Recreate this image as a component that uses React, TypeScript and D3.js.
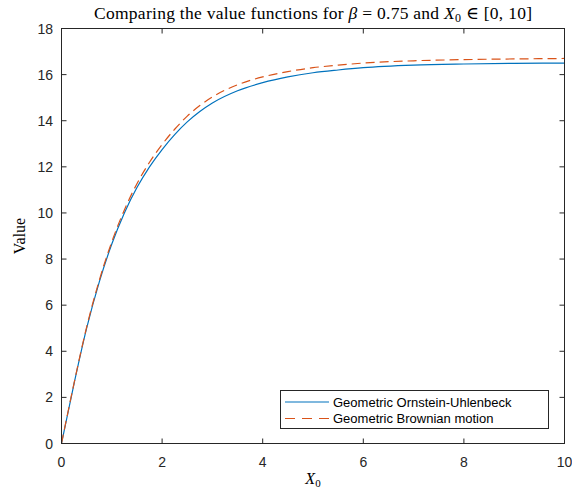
import React from "react";
import * as d3 from "d3";

const xs = [0, 0.25, 0.5, 0.75, 1, 1.25, 1.5, 1.75, 2, 2.25, 2.5, 2.75, 3, 3.5, 4, 4.5, 5, 5.5, 6, 7, 8, 9, 10];
const ouValues = [0, 2.6, 5.0, 7.0, 8.65, 10.0, 11.1, 12.0, 12.75, 13.4, 13.95, 14.4, 14.77, 15.3, 15.65, 15.9, 16.08, 16.2, 16.3, 16.41, 16.46, 16.49, 16.5];
const gbmValues = [0, 2.62, 5.05, 7.07, 8.75, 10.13, 11.27, 12.2, 12.97, 13.63, 14.2, 14.66, 15.03, 15.56, 15.9, 16.13, 16.3, 16.41, 16.5, 16.6, 16.65, 16.68, 16.7];
const xTicks = [0, 2, 4, 6, 8, 10];
const yTicks = [0, 2, 4, 6, 8, 10, 12, 14, 16, 18];
const seriesNames = ["Geometric Ornstein-Uhlenbeck", "Geometric Brownian motion"];

const W = 572, H = 491;
const L = 61.5, R = 564.5, T = 28.5, B = 443.5;
const axisColor = "#262626";
const sans = "'Liberation Sans', Arial, Helvetica, sans-serif";
const serif = "'Liberation Serif', 'DejaVu Serif', 'Times New Roman', serif";

export default function App() {
  const x = d3.scaleLinear().domain([0, 10]).range([L, R]);
  const y = d3.scaleLinear().domain([0, 18]).range([B, T]);
  const line = d3
    .line<number>()
    .x((_, i) => x(xs[i]))
    .y((d) => y(d))
    .curve(d3.curveMonotoneX);
  const tl = 5;
  return (
    <svg width={W} height={H} style={{ position: "absolute", left: 0, top: 0, background: "#fff" }}>
      <rect x={0} y={0} width={W} height={H} fill="#fff" />
      <defs>
        <clipPath id="plot">
          <rect x={L} y={T} width={R - L} height={B - T} />
        </clipPath>
      </defs>
      <g clipPath="url(#plot)">
        <path d={line(ouValues) || ""} fill="none" stroke="#0072BD" strokeWidth={1.2} />
        <path d={line(gbmValues) || ""} fill="none" stroke="#D95319" strokeWidth={1.2} strokeDasharray="9,5" />
      </g>
      <rect x={L} y={T} width={R - L} height={B - T} fill="none" stroke={axisColor} strokeWidth={1} />
      {xTicks.map((t) => (
        <g key={"x" + t}>
          <line x1={x(t)} x2={x(t)} y1={B} y2={B - tl} stroke={axisColor} />
          <line x1={x(t)} x2={x(t)} y1={T} y2={T + tl} stroke={axisColor} />
          <text x={x(t)} y={467} textAnchor="middle" fontFamily={sans} fontSize={14} fill={axisColor}>
            {t}
          </text>
        </g>
      ))}
      {yTicks.map((t) => (
        <g key={"y" + t}>
          <line x1={L} x2={L + tl} y1={y(t)} y2={y(t)} stroke={axisColor} />
          <line x1={R} x2={R - tl} y1={y(t)} y2={y(t)} stroke={axisColor} />
          <text x={53} y={y(t) + 5} textAnchor="end" fontFamily={sans} fontSize={14} fill={axisColor}>
            {t}
          </text>
        </g>
      ))}
      <text x={94} y={19} textLength={438} lengthAdjust="spacing" fontFamily={serif} fontSize={17.5} fill="#000">
        <tspan>Comparing the value functions for </tspan>
        <tspan fontStyle="italic">β</tspan>
        <tspan> = 0.75 and </tspan>
        <tspan fontStyle="italic">X</tspan>
        <tspan fontSize={12} dy={3}>0</tspan>
        <tspan dy={-3}> ∈ [0, 10]</tspan>
      </text>
      <text transform={`translate(25, ${(T + B) / 2}) rotate(-90)`} textAnchor="middle" fontFamily={serif} fontSize={16} fill="#000">
        Value
      </text>
      <text x={(L + R) / 2} y={484} textAnchor="middle" fontFamily={serif} fontSize={16} fill="#000">
        <tspan fontStyle="italic">X</tspan>
        <tspan fontSize={11} dy={3}>0</tspan>
      </text>
      <g>
        <rect x={280.5} y={390.5} width={268} height={38} fill="#fff" stroke={axisColor} strokeWidth={1} />
        <line x1={285} x2={329} y1={402} y2={402} stroke="#0072BD" strokeWidth={1.2} />
        <line x1={285} x2={329} y1={418.5} y2={418.5} stroke="#D95319" strokeWidth={1.2} strokeDasharray="10,7" />
        <text x={333} y={406.5} fontFamily={sans} fontSize={13} fill="#000">{seriesNames[0]}</text>
        <text x={333} y={423} fontFamily={sans} fontSize={13} fill="#000">{seriesNames[1]}</text>
      </g>
    </svg>
  );
}
